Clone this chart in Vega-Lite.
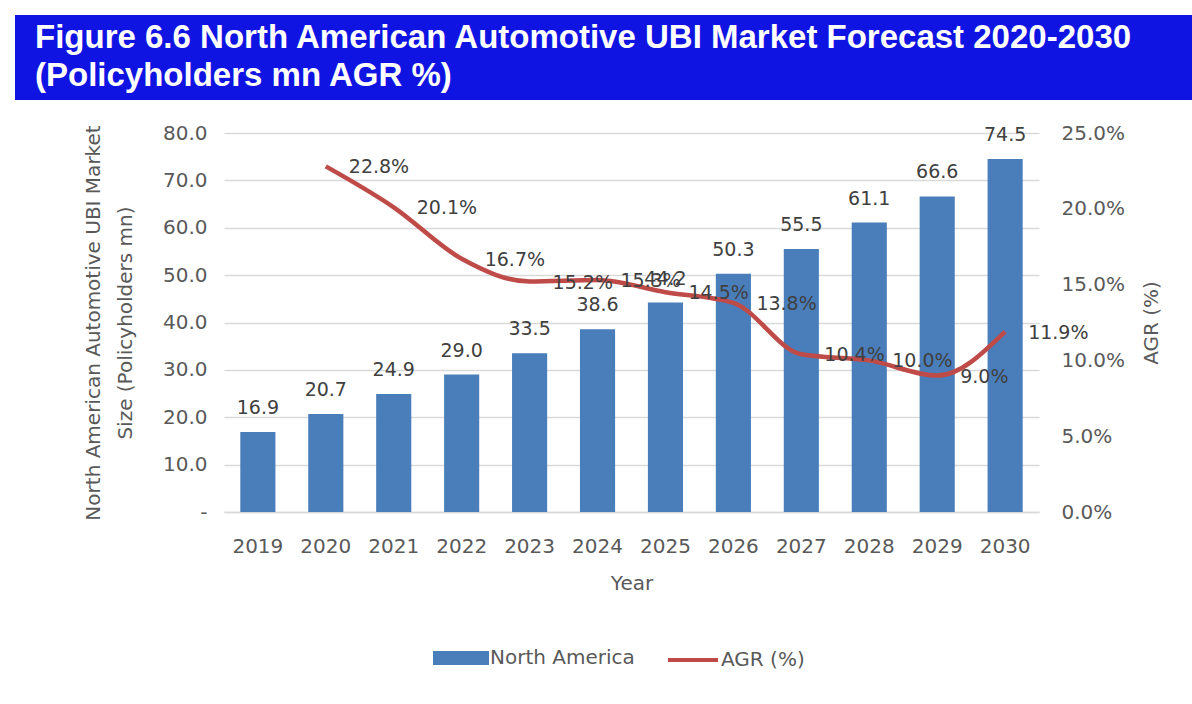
{
  "$schema": "https://vega.github.io/schema/vega-lite/v6.json",
  "background": "white",
  "padding": {"left": 15, "top": 15, "right": 0, "bottom": 0},
  "spacing": 23,
  "config": {"view": {"stroke": null}, "font": "DejaVu Sans"},
  "vconcat": [
    {
      "width": 1177,
      "height": 85,
      "view": {"fill": "#1014e2", "stroke": null},
      "data": {"values": [
        {"line": "Figure 6.6 North American Automotive UBI Market Forecast 2020-2030", "row": 0},
        {"line": "(Policyholders mn AGR %)", "row": 1}
      ]},
      "mark": {"type": "text", "align": "left", "baseline": "middle", "font": "Liberation Sans", "fontWeight": "bold", "fontSize": 33, "color": "white"},
      "encoding": {
        "x": {"datum": 0.017, "type": "quantitative", "scale": {"domain": [0, 1], "nice": false, "zero": false}, "axis": null},
        "y": {"field": "row", "type": "quantitative", "scale": {"domain": [-0.605, 1.632], "nice": false, "zero": false, "reverse": true}, "axis": null},
        "text": {"field": "line", "type": "nominal"}
      }
    },
    {
      "spacing": 67,
      "hconcat": [
        {
          "width": 1,
          "height": 1,
          "data": {"values": []},
          "mark": "point"
        },
        {
          "width": 815,
          "height": 379,
          "data": {"values": [
            {"year": "2019", "size": 16.9, "agr": null, "s1": "North America", "s2": "AGR (%)"},
            {"year": "2020", "size": 20.7, "agr": 0.228, "s1": "North America", "s2": "AGR (%)"},
            {"year": "2021", "size": 24.9, "agr": 0.201, "s1": "North America", "s2": "AGR (%)"},
            {"year": "2022", "size": 29.0, "agr": 0.167, "s1": "North America", "s2": "AGR (%)"},
            {"year": "2023", "size": 33.5, "agr": 0.152, "s1": "North America", "s2": "AGR (%)"},
            {"year": "2024", "size": 38.6, "agr": 0.153, "s1": "North America", "s2": "AGR (%)"},
            {"year": "2025", "size": 44.2, "agr": 0.145, "s1": "North America", "s2": "AGR (%)"},
            {"year": "2026", "size": 50.3, "agr": 0.138, "s1": "North America", "s2": "AGR (%)"},
            {"year": "2027", "size": 55.5, "agr": 0.104, "s1": "North America", "s2": "AGR (%)"},
            {"year": "2028", "size": 61.1, "agr": 0.100, "s1": "North America", "s2": "AGR (%)"},
            {"year": "2029", "size": 66.6, "agr": 0.090, "s1": "North America", "s2": "AGR (%)"},
            {"year": "2030", "size": 74.5, "agr": 0.119, "s1": "North America", "s2": "AGR (%)"}
          ]},
          "encoding": {
            "x": {
              "field": "year", "type": "nominal", "sort": null,
              "scale": {"paddingInner": 0.483, "paddingOuter": 0.24},
              "axis": {"title": "Year", "labelAngle": 0, "ticks": false, "domainColor": "#d9d9d9", "domainWidth": 1.5, "labelPadding": 24, "labelFontSize": 20, "labelColor": "#595959", "titleFontSize": 20, "titleColor": "#595959", "titleFontWeight": "normal", "titlePadding": 17}
            }
          },
          "layer": [
            {
              "layer": [
                {
                  "mark": {"type": "bar", "color": "#4a7ebb"},
                  "encoding": {
                    "y": {
                      "field": "size", "type": "quantitative",
                      "scale": {"domain": [0, 80], "nice": false},
                      "axis": {"title": ["North American Automotive UBI Market", "Size (Policyholders mn)"], "values": [0, 10, 20, 30, 40, 50, 60, 70, 80], "labelExpr": "datum.value == 0 ? '-' : format(datum.value, '.1f')", "grid": true, "gridColor": "#d9d9d9", "gridWidth": 1.5, "ticks": false, "domain": false, "labelPadding": 17, "labelFontSize": 20, "labelColor": "#595959", "titleFontSize": 20, "titleColor": "#595959", "titleFontWeight": "normal", "titlePadding": 27, "titleLineHeight": 32}
                    },
                    "fill": {
                      "field": "s1", "type": "nominal",
                      "scale": {"domain": ["North America"], "range": ["#4a7ebb"]},
                      "legend": {"title": null, "orient": "none", "legendX": 223, "legendY": 511, "padding": 0, "symbolType": "M-2,-0.5H2V0.5H-2Z", "symbolSize": 784, "symbolStrokeWidth": 0, "labelOffset": 15, "labelFontSize": 20, "labelColor": "#595959"}
                    }
                  }
                },
                {
                  "mark": {"type": "text", "baseline": "middle", "dy": -24, "fontSize": 19, "color": "#404040"},
                  "encoding": {
                    "y": {"field": "size", "type": "quantitative"},
                    "text": {"field": "size", "type": "quantitative", "format": ".1f"}
                  }
                }
              ]
            },
            {
              "transform": [{"filter": "datum.agr != null"}],
              "layer": [
                {
                  "mark": {"type": "line", "interpolate": "monotone", "strokeWidth": 4.5},
                  "encoding": {
                    "y": {
                      "field": "agr", "type": "quantitative",
                      "scale": {"domain": [0, 0.25], "nice": false},
                      "axis": {"orient": "right", "title": "AGR (%)", "titleAngle": 270, "titleBaseline": "top", "format": ".1%", "values": [0, 0.05, 0.1, 0.15, 0.2, 0.25], "grid": false, "ticks": false, "domain": false, "labelPadding": 22, "labelFontSize": 20, "labelColor": "#595959", "titleFontSize": 20, "titleColor": "#595959", "titleFontWeight": "normal", "titlePadding": 17}
                    },
                    "stroke": {
                      "field": "s2", "type": "nominal",
                      "scale": {"domain": ["AGR (%)"], "range": ["#be4b48"]},
                      "legend": {"title": null, "orient": "none", "legendX": 442, "legendY": 500, "padding": 0, "symbolType": "stroke", "symbolSize": 2500, "symbolStrokeWidth": 4, "labelOffset": 1, "labelFontSize": 20, "labelColor": "#595959"}
                    }
                  }
                },
                {
                  "mark": {"type": "text", "align": "left", "baseline": "middle", "dx": 23, "dy": 1, "fontSize": 19, "color": "#404040"},
                  "encoding": {
                    "y": {"field": "agr", "type": "quantitative"},
                    "text": {"field": "agr", "type": "quantitative", "format": ".1%"}
                  }
                }
              ]
            }
          ],
          "resolve": {"scale": {"y": "independent", "fill": "independent", "stroke": "independent"}}
        }
      ]
    }
  ]
}
